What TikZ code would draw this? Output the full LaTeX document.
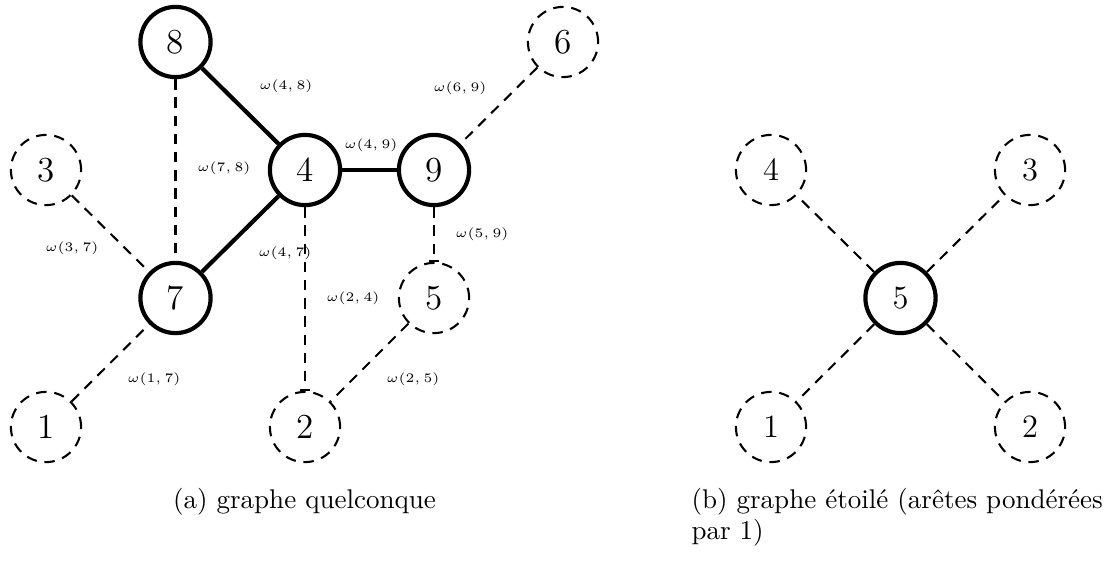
\documentclass[tikz,border=0pt]{standalone}
\usetikzlibrary{arrows.meta}
\begin{document}
\begin{tikzpicture}[x=0.38462pt,y=-0.38462pt,
  vtx/.style={circle, minimum size=27pt, inner sep=0pt},
  bigfont/.style={font=\fontsize{13.5}{16}\selectfont},
  smallfont/.style={font=\fontsize{12.5}{15}\selectfont},
  dsh/.style={dash pattern=on 4pt off 3pt},
  solidv/.style={vtx, draw, line width=1.6pt},
  dashv/.style={vtx, draw, thick, dsh},
  heavy/.style={line width=1.6pt},
  light/.style={thick, dsh},
  barend/.style={-{Bar[width=3.6pt,line width=0.8pt]}},
  wlab/.style={font=\tiny, inner sep=0pt},
  captext/.style={font=\fontsize{10.4}{12.5}\selectfont, inner sep=0pt}
]
\useasboundingbox (0,0) rectangle (1109,567);

% left graph
\node[solidv, bigfont] (n8) at (175.5,42) {8};
\node[dashv, bigfont] (n6) at (563,42) {6};
\node[dashv, bigfont] (n3) at (46,170) {3};
\node[solidv, bigfont] (n4) at (305,170) {4};
\node[solidv, bigfont] (n9) at (434,170) {9};
\node[solidv, bigfont] (n7) at (175.5,298) {7};
\node[dashv, bigfont] (n5) at (434,298) {5};
\node[dashv, bigfont] (n1) at (46,427) {1};
\node[dashv, bigfont] (n2) at (305,427) {2};

\draw[heavy] (n8) -- (n4);
\draw[heavy] (n4) -- (n9);
\draw[heavy] (n4) -- (n7);
\draw[light] (n8) -- (n7);
\draw[light] (n3) -- (n7);
\draw[light] (n1) -- (n7);
\draw[light] (n6) -- (n9);
\draw[light] (n5) -- (n2);
\draw[light, barend] (n4) -- (n2);
\draw[light, barend] (n9) -- (n5);

\node[wlab] (l48) at (286,86) {$\omega(4,8)$};
\node[wlab] (l69) at (460,88) {$\omega(6,9)$};
\node[wlab] (l49) at (371,145) {$\omega(4,9)$};
\node[wlab] (l78) at (224,168) {$\omega(7,8)$};
\node[wlab] (l59) at (482,234) {$\omega(5,9)$};
\node[wlab] (l37) at (72,248) {$\omega(3,7)$};
\node[wlab] (l47) at (285,253) {$\omega(4,7)$};
\node[wlab] (l24) at (353,298) {$\omega(2,4)$};
\node[wlab] (l17) at (154,379) {$\omega(1,7)$};
\node[wlab] (l25) at (413,379) {$\omega(2,5)$};

% right graph
\node[dashv, smallfont] (r4) at (771,170) {4};
\node[dashv, smallfont] (r3) at (1030,170) {3};
\node[solidv, smallfont] (r5) at (900.5,298) {5};
\node[dashv, smallfont] (r1) at (771,427) {1};
\node[dashv, smallfont] (r2) at (1030,427) {2};
\draw[light] (r5) -- (r4);
\draw[light] (r5) -- (r3);
\draw[light] (r5) -- (r1);
\draw[light] (r5) -- (r2);

% captions
\node[captext, anchor=base] (capa) at (304.5,508) {(a) graphe quelconque};
\node[captext, anchor=base west] (capb1) at (691,508) {(b) graphe étoilé (arêtes pondérées};
\node[captext, anchor=base west] (capb2) at (691,539) {par 1)};
\end{tikzpicture}
\end{document}
